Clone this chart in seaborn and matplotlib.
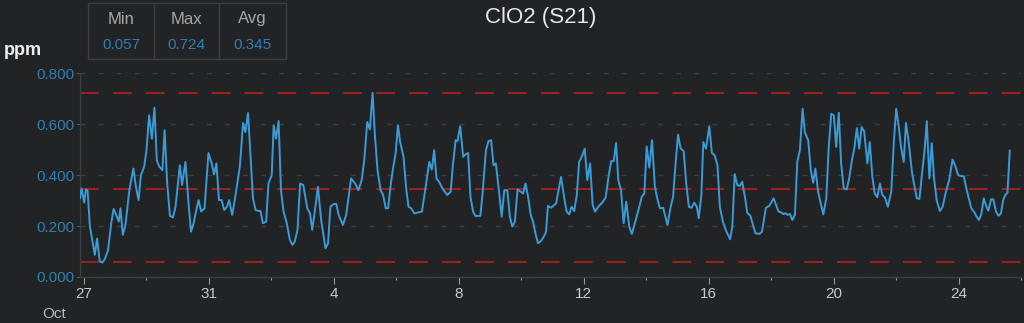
import matplotlib
matplotlib.use("Agg")
import matplotlib.pyplot as plt
import matplotlib.dates as mdates
from matplotlib.patches import Rectangle
from matplotlib.lines import Line2D
import seaborn as sns
import pandas as pd

# ---------------- data ----------------
title = "ClO2 (S21)"
unit = "ppm"
month_label = "Oct"
start = "2023-10-27"

hours_a = [-3.0, -1.8, 0.25, 1.5, 2.8, 4.6, 8.4, 10.1, 12.2, 14.2,
           16.0, 18.5, 21.0, 22.8, 24.8, 26.8, 28.1, 29.9, 31.9, 34.9,
           38.0, 40.0, 42.0, 43.8, 46.3, 48.1, 50.1, 52.2, 54.2, 56.0,
           57.7, 60.3, 62.0, 64.0, 66.1, 68.4, 70.4, 73.7, 75.4, 78.0,
           80.5, 82.3, 84.3, 86.1, 88.1, 90.1, 92.7, 95.7, 98.2, 100.0,
           101.8, 103.8, 105.8, 107.8, 109.9, 111.6, 113.9, 115.9, 119.8, 122.3,
           124.1, 126.1, 128.1, 129.9, 131.9, 134.4, 135.7, 137.5, 140.0, 141.8,
           144.3, 145.8, 147.6, 149.6, 151.4, 153.4, 155.9, 158.2, 160.3, 162.0,
           164.1, 166.1, 168.6, 171.6]
ppm_a = [0.309, 0.348, 0.292, 0.344, 0.340, 0.198, 0.087, 0.151, 0.061, 0.057,
         0.070, 0.104, 0.211, 0.267, 0.244, 0.218, 0.270, 0.165, 0.204, 0.341,
         0.426, 0.354, 0.302, 0.400, 0.433, 0.498, 0.635, 0.543, 0.665, 0.459,
         0.435, 0.420, 0.576, 0.367, 0.240, 0.234, 0.276, 0.439, 0.361, 0.452,
         0.283, 0.178, 0.211, 0.257, 0.302, 0.257, 0.270, 0.487, 0.446, 0.403,
         0.446, 0.302, 0.302, 0.263, 0.276, 0.302, 0.244, 0.302, 0.433, 0.605,
         0.569, 0.644, 0.465, 0.309, 0.263, 0.259, 0.259, 0.211, 0.217, 0.367,
         0.400, 0.596, 0.543, 0.612, 0.341, 0.257, 0.211, 0.146, 0.126, 0.139,
         0.185, 0.367, 0.361, 0.270]

hours_b = [173.7, 175.4, 177.2, 179.8, 182.3, 185.6, 187.6, 189.4, 191.9, 193.9,
           195.7, 199.0, 201.5, 205.3, 208.4, 210.9, 213.4, 215.4, 217.7, 219.7,
           221.8, 223.5, 225.6, 227.9, 229.9, 231.9, 233.7, 235.7, 237.5, 239.5,
           241.3, 243.0, 245.6, 247.6, 249.4, 251.4, 253.9, 256.5, 259.7, 262.8,
           265.3, 267.3, 269.1, 270.9, 272.9, 275.4, 279.2, 281.8, 283.5, 285.6,
           287.1, 289.1, 291.4, 293.2, 295.2, 297.0, 299.0, 300.8, 304.6, 306.3,
           308.9, 310.9, 312.9, 314.7, 316.5, 318.5, 321.0, 323.0, 325.3, 327.3,
           329.1, 331.1, 333.2, 335.7, 337.5, 339.3, 341.3, 343.3, 345.1, 346.9,
           348.9, 350.9, 353.4]
ppm_b = [0.250, 0.185, 0.250, 0.354, 0.224, 0.113, 0.133, 0.276, 0.287, 0.287,
         0.244, 0.204, 0.244, 0.387, 0.367, 0.341, 0.380, 0.459, 0.609, 0.579,
         0.724, 0.563, 0.420, 0.341, 0.322, 0.270, 0.270, 0.361, 0.426, 0.485,
         0.596, 0.530, 0.472, 0.348, 0.276, 0.270, 0.250, 0.253, 0.257, 0.361,
         0.452, 0.422, 0.498, 0.387, 0.374, 0.348, 0.322, 0.335, 0.439, 0.537,
         0.534, 0.592, 0.472, 0.482, 0.487, 0.315, 0.257, 0.240, 0.240, 0.328,
         0.498, 0.534, 0.537, 0.439, 0.446, 0.357, 0.237, 0.341, 0.341, 0.237,
         0.198, 0.217, 0.344, 0.335, 0.328, 0.367, 0.315, 0.244, 0.217, 0.172,
         0.133, 0.139, 0.159]

hours_c = [355.1, 356.5, 359.0, 362.8, 366.6, 369.1, 370.9, 372.9, 374.7, 376.7,
           378.7, 380.5, 382.5, 384.8, 386.8, 388.9, 390.9, 392.7, 395.2, 398.2,
           400.8, 403.3, 405.1, 407.1, 408.9, 410.6, 412.7, 414.7, 416.7, 419.0,
           421.0, 423.6, 426.1, 428.6, 430.6, 432.4, 434.4, 436.5, 438.7, 440.5,
           442.5, 445.1, 448.4, 450.6, 452.7, 454.7, 456.5, 458.5, 460.8, 462.8,
           464.8, 466.9, 468.9, 470.9, 472.4, 474.4, 475.9, 478.0, 480.5, 482.5,
           484.6, 486.8, 488.6, 491.1, 493.7, 496.5, 498.2, 500.0, 502.0, 503.8,
           505.8, 508.3, 509.6, 512.1, 515.9, 519.2, 521.0, 524.0, 526.6, 529.9,
           533.7, 536.2]
ppm_c = [0.178, 0.279, 0.272, 0.289, 0.393, 0.309, 0.257, 0.246, 0.276, 0.259,
         0.322, 0.452, 0.472, 0.504, 0.380, 0.446, 0.283, 0.257, 0.276, 0.292,
         0.311, 0.400, 0.455, 0.455, 0.526, 0.380, 0.341, 0.211, 0.296, 0.198,
         0.169, 0.217, 0.263, 0.315, 0.328, 0.513, 0.430, 0.537, 0.354, 0.309,
         0.270, 0.272, 0.204, 0.270, 0.315, 0.452, 0.559, 0.504, 0.495, 0.367,
         0.276, 0.272, 0.292, 0.276, 0.231, 0.322, 0.530, 0.504, 0.592, 0.487,
         0.478, 0.439, 0.276, 0.214, 0.178, 0.148, 0.198, 0.404, 0.361, 0.357,
         0.374, 0.302, 0.253, 0.240, 0.172, 0.169, 0.178, 0.272, 0.279, 0.309,
         0.257, 0.253]

hours_d = [537.5, 539.2, 540.8, 542.5, 544.3, 546.3, 548.1, 550.1, 552.2, 553.9,
           556.5, 558.5, 560.3, 562.0, 564.1, 566.1, 568.1, 570.4, 572.2, 574.2,
           576.2, 578.0, 580.0, 581.8, 583.8, 586.1, 588.1, 590.1, 591.9, 593.9,
           595.7, 597.5, 599.5, 602.0, 603.8, 605.8, 607.6, 609.6, 611.6, 613.4,
           615.4, 617.7, 620.3, 622.3, 624.1, 626.1, 627.8, 629.9, 631.6, 633.7,
           636.2, 638.2, 640.0, 642.0, 643.8, 645.8, 647.6, 649.6, 651.4, 653.2,
           655.2, 657.7, 659.8, 662.3, 664.8, 667.4, 669.6, 671.7, 674.2, 676.0,
           678.0, 681.8, 683.8, 685.6, 687.6, 689.4, 691.4, 693.2, 694.9, 697.0,
           698.7, 700.8, 702.8, 704.6, 706.3, 707.9, 709.6, 711.4]
ppm_d = [0.247, 0.250, 0.244, 0.247, 0.224, 0.244, 0.452, 0.498, 0.661, 0.569,
         0.537, 0.420, 0.370, 0.426, 0.335, 0.289, 0.246, 0.309, 0.504, 0.641,
         0.635, 0.511, 0.645, 0.446, 0.348, 0.344, 0.391, 0.459, 0.504, 0.585,
         0.504, 0.589, 0.572, 0.446, 0.530, 0.393, 0.328, 0.313, 0.367, 0.322,
         0.313, 0.276, 0.335, 0.530, 0.661, 0.589, 0.511, 0.452, 0.605, 0.530,
         0.413, 0.354, 0.309, 0.307, 0.400, 0.491, 0.612, 0.387, 0.526, 0.387,
         0.302, 0.259, 0.276, 0.335, 0.380, 0.461, 0.435, 0.400, 0.396, 0.396,
         0.348, 0.270, 0.257, 0.240, 0.224, 0.244, 0.309, 0.279, 0.261, 0.305,
         0.305, 0.257, 0.240, 0.250, 0.302, 0.322, 0.331, 0.498]

stat_names = ["Min", "Max", "Avg"]
stat_values = [0.057, 0.724, 0.345]
y_ticks = [0.0, 0.2, 0.4, 0.6, 0.8]

# ---------------- build frame ----------------
hours = hours_a + hours_b + hours_c + hours_d
ppm = ppm_a + ppm_b + ppm_c + ppm_d
assert len(hours) == len(ppm)
df = pd.DataFrame({
    "time": pd.Timestamp(start) + pd.to_timedelta(hours, unit="h"),
    "ppm": ppm,
})

# ---------------- style ----------------
BG = "#222325"
LINE = "#3b9bd6"
BLUE_TXT = "#2f7fb3"
RED = "#c4201c"
GRID = "#3e3f42"
SPINE = "#3c3d40"

sns.set_theme(style="dark", rc={
    "figure.facecolor": BG,
    "axes.facecolor": BG,
    "savefig.facecolor": BG,
    "lines.scale_dashes": False,
})
plt.rcParams["font.family"] = ["Liberation Sans", "DejaVu Sans"]

fig = plt.figure(figsize=(10.24, 3.23), dpi=100)
W, H = 1024, 323
ax = fig.add_axes([80 / W, (H - 277) / H, (1021 - 80) / W, (277 - 73.3) / H])
ax.set_facecolor(BG)

sns.lineplot(data=df, x="time", y="ppm", ax=ax, color=LINE, linewidth=1.4,
             zorder=3)

for v in stat_values:
    ax.axhline(v, color=RED, linewidth=1.1, dashes=(13.5, 10.2), zorder=2)

ax.set_xlim(df["time"].iloc[0], df["time"].iloc[-1])
ax.set_ylim(0, 0.8)

ax.set_yticks(y_ticks)
ax.set_yticklabels([f"{t:.3f}" for t in y_ticks])
ax.yaxis.grid(True, color=GRID, linestyle=(0, (3.5, 9.5)), linewidth=1.0)
ax.xaxis.grid(False)

major = pd.date_range(start, periods=8, freq="4D")
minor = pd.date_range(pd.Timestamp(start) + pd.Timedelta(days=2), periods=8, freq="4D")
ax.set_xticks(major)
ax.set_xticks(minor, minor=True)
ax.xaxis.set_major_formatter(mdates.DateFormatter("%-d"))

ax.tick_params(axis="y", colors="#555659", labelcolor=BLUE_TXT, labelsize=11,
               left=True, length=3, width=0.8, pad=1)
ax.tick_params(axis="x", which="major", colors="#9a9b9e", labelcolor="#c8c8c8",
               labelsize=11, bottom=True, length=5, width=0.8, pad=2)
ax.tick_params(axis="x", which="minor", colors="#9a9b9e", bottom=True,
               length=2.5, width=0.8)

ax.set_xlabel("")
ax.set_ylabel("")
for side in ["top", "right"]:
    ax.spines[side].set_visible(False)
for side in ["left", "bottom"]:
    ax.spines[side].set_visible(True)
    ax.spines[side].set_color(SPINE)
    ax.spines[side].set_linewidth(1.0)

# ---------------- texts ----------------
fig.text(541 / W, 1 - 18 / H, title, ha="center", va="center",
         color="#e6e6e6", fontsize=16)
fig.text(4 / W, 1 - 55 / H, unit, ha="left", va="baseline",
         color="#eeeeee", fontsize=13, fontweight="bold")
fig.text(54 / W, 1 - 314 / H, month_label, ha="center", va="center",
         color="#b8b8b8", fontsize=11)

# stat box
bx0, bx1, by0, by1 = 88, 286, 3, 59
fig.add_artist(Rectangle((bx0 / W, 1 - by1 / H), (bx1 - bx0) / W, (by1 - by0) / H,
                         transform=fig.transFigure, fill=False,
                         edgecolor=SPINE, linewidth=1.0))
for xd in [154, 219]:
    fig.add_artist(Line2D([xd / W, xd / W], [1 - by1 / H, 1 - by0 / H],
                          transform=fig.transFigure, color=SPINE, linewidth=1.0))
centers = [121, 186.5, 252.5]
for cx, name, val in zip(centers, stat_names, stat_values):
    fig.text(cx / W, 1 - 19 / H, name, ha="center", va="center",
             color="#a6a6a6", fontsize=12)
    fig.text(cx / W, 1 - 45 / H, f"{val:.3f}", ha="center", va="center",
             color=BLUE_TXT, fontsize=11)

fig.savefig("out.png", dpi=100, facecolor=BG)
